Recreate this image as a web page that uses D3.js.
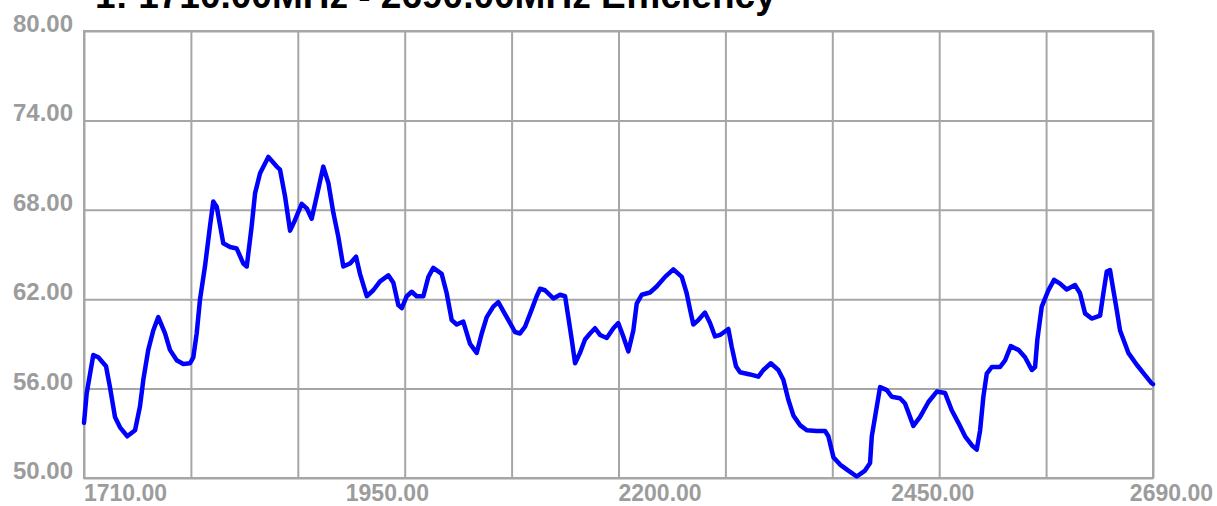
<!DOCTYPE html>
<html><head><meta charset="utf-8">
<script src="https://cdn.jsdelivr.net/npm/d3@7"></script>
<style>body{margin:0;background:#fff;} svg{display:block;}</style>
</head><body><svg id="chart" width="1217" height="506"></svg>
<script>
const title = "1: 1710.00MHz - 2690.00MHz Efficiency";
const freqs = [1710,1712.5,1718.5,1723.1,1730.2,1733.8,1738.4,1743.0,1749.7,1756.8,1761.3,1764.4,1768.9,1773.5,1778.1,1784.3,1788.8,1795.0,1801.0,1807.2,1810.2,1813.3,1816.3,1820.9,1825.5,1828.5,1831.7,1837.7,1843.9,1850.0,1856.0,1859.2,1863.7,1866.8,1871.4,1879.0,1886.7,1889.7,1894.3,1898.9,1903.4,1909.6,1914.2,1918.7,1923.3,1929.4,1934.0,1938.6,1943.1,1947.7,1953.9,1959.4,1963.0,1969.2,1975.2,1981.4,1989.0,1993.6,1998.2,2001.3,2005.9,2010.4,2015.0,2021.1,2025.7,2030.2,2037.9,2042.5,2047.1,2051.7,2057.7,2063.9,2070.0,2074.6,2079.2,2085.2,2089.8,2094.4,2100.6,2105.1,2109.7,2114.3,2120.4,2125.0,2128.1,2132.6,2140.3,2146.4,2151.0,2154.0,2157.1,2160.2,2164.7,2169.3,2173.9,2178.5,2183.1,2189.2,2195.3,2199.8,2204.4,2209.0,2213.6,2216.7,2221.3,2228.9,2235.0,2242.7,2250.3,2258.0,2262.5,2265.6,2268.6,2273.2,2279.3,2283.9,2288.5,2293.1,2300.7,2303.8,2307.7,2311.4,2320.6,2328.2,2332.8,2339.6,2346.5,2351.1,2355.7,2360.3,2366.4,2372.6,2381.7,2389.4,2392.4,2397.0,2403.1,2410.7,2418.4,2426.0,2430.6,2432.2,2435.2,2439.8,2446.0,2450.5,2458.1,2462.7,2470.3,2476.5,2484.1,2491.8,2499.4,2505.5,2511.6,2517.7,2523.9,2528.4,2531.5,2534.5,2537.6,2542.2,2549.8,2554.4,2559.6,2566.6,2572.7,2578.9,2581.9,2584.0,2588.0,2594.1,2599.3,2604.8,2610.9,2618.5,2623.1,2627.7,2633.8,2641.5,2644.5,2647.6,2650.6,2653.7,2656.7,2659.8,2667.4,2675.1,2682.7,2688.8,2690];
const efficiency = [53.7,55.7,58.25,58.1,57.5,56.1,54.1,53.4,52.8,53.2,54.8,56.6,58.6,59.9,60.8,59.7,58.6,57.9,57.65,57.7,58.1,59.7,61.95,64.2,66.9,68.55,68.2,65.75,65.5,65.4,64.4,64.2,66.9,69.1,70.45,71.55,70.9,70.7,68.9,66.6,67.3,68.4,68.1,67.4,68.9,70.9,69.8,67.8,66.2,64.2,64.4,64.85,63.7,62.2,62.6,63.2,63.6,63.1,61.6,61.4,62.2,62.5,62.2,62.2,63.5,64.1,63.7,62.4,60.6,60.3,60.5,59.0,58.4,59.7,60.8,61.5,61.8,61.2,60.4,59.8,59.7,60.15,61.3,62.2,62.7,62.6,62.05,62.3,62.2,60.8,59.3,57.7,58.4,59.3,59.7,60.05,59.6,59.4,60.05,60.4,59.5,58.5,59.9,61.7,62.3,62.45,62.85,63.5,64.0,63.5,62.4,61.3,60.3,60.6,61.1,60.4,59.5,59.6,60.0,58.8,57.5,57.1,56.95,56.8,57.25,57.7,57.25,56.6,55.25,54.2,53.55,53.2,53.15,53.15,52.8,51.4,50.9,50.5,50.1,50.5,51.0,52.8,54.1,56.1,55.9,55.45,55.35,55.0,53.5,54.1,55.1,55.8,55.7,54.55,53.7,52.8,52.2,51.9,53.2,55.45,57.0,57.45,57.45,57.9,58.85,58.6,58.1,57.25,57.45,59.3,61.5,62.6,63.3,63.05,62.65,62.95,62.4,61.05,60.7,60.9,62.4,63.85,63.95,62.6,61.3,59.9,58.4,57.6,56.9,56.35,56.3];
const xGridTicks = d3.range(0, 11).map(i => 1710 + 98 * i);
const xLabelTicks = [1710, 1950, 2200, 2450, 2690];
const yTicks = [50, 56, 62, 68, 74, 80];

const svg = d3.select("#chart");
const m = {left: 84, right: 1153, top: 31, bottom: 478};
const x = d3.scaleLinear().domain([1710, 2690]).range([m.left, m.right]);
const y = d3.scaleLinear().domain([50, 80]).range([m.bottom, m.top]);
const gridColor = "#a6a6a6";
const labelColor = "#9c9c9c";
const fmt = d3.format(".2f");

// vertical grid
svg.append("g").attr("transform", `translate(0,${m.bottom})`)
  .call(d3.axisBottom(x).tickValues(xGridTicks).tickSize(-(m.bottom - m.top)).tickFormat(""))
  .call(g => g.select(".domain").remove())
  .call(g => g.selectAll("line").attr("stroke", gridColor).attr("stroke-width", 2));
// horizontal grid
svg.append("g").attr("transform", `translate(${m.left},0)`)
  .call(d3.axisLeft(y).tickValues(yTicks).tickSize(-(m.right - m.left)).tickFormat(""))
  .call(g => g.select(".domain").remove())
  .call(g => g.selectAll("line").attr("stroke", gridColor).attr("stroke-width", 2));
// frame
svg.append("rect").attr("x", m.left).attr("y", m.top)
  .attr("width", m.right - m.left).attr("height", m.bottom - m.top)
  .attr("fill", "none").attr("stroke", gridColor).attr("stroke-width", 2);

// y labels
svg.append("g").selectAll("text").data(yTicks).join("text")
  .attr("x", 73).attr("y", d => y(d) + 1)
  .attr("text-anchor", "end")
  .attr("font-family", "Liberation Sans, Arial, sans-serif")
  .attr("font-weight", "bold").attr("font-size", 24)
  .attr("fill", labelColor).text(d => fmt(d));

// x labels
svg.append("g").selectAll("text").data(xLabelTicks).join("text")
  .attr("x", (d, i) => i === xLabelTicks.length - 1 ? 1213 : x(d))
  .attr("y", 501)
  .attr("text-anchor", (d, i) => i === xLabelTicks.length - 1 ? "end" : "start")
  .attr("font-family", "Liberation Sans, Arial, sans-serif")
  .attr("font-weight", "bold").attr("font-size", 23)
  .attr("fill", labelColor).text(d => fmt(d));

// title (partly cut off at top, as in the reference)
svg.append("text").attr("x", 95).attr("y", 8)
  .attr("font-family", "Liberation Sans, Arial, sans-serif")
  .attr("font-weight", "bold").attr("font-size", 37)
  .attr("fill", "#000").text(title);

// data line
const data = freqs.map((f, i) => [f, efficiency[i]]);
svg.append("path").datum(data)
  .attr("fill", "none").attr("stroke", "#0000ff").attr("stroke-width", 4.5)
  .attr("stroke-linejoin", "round").attr("stroke-linecap", "round")
  .attr("d", d3.line().x(d => x(d[0])).y(d => y(d[1])));
</script></body></html>
